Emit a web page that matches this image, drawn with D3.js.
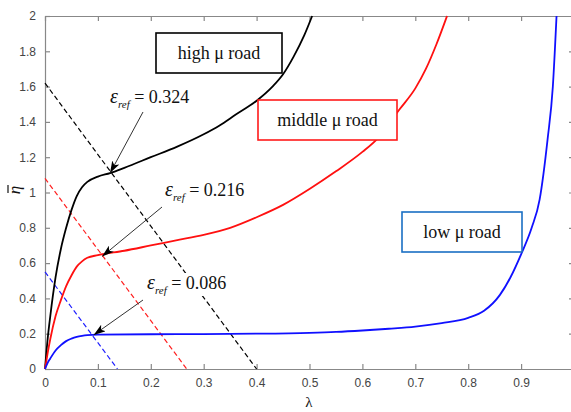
<!DOCTYPE html>
<html lang="en">
<head>
  <meta charset="utf-8">
  <title>eta vs lambda</title>
  <script src="https://cdn.jsdelivr.net/npm/d3@7"></script>
  <style>
    body { margin: 0; background: #fff; }
    .tick text { font-family: "Liberation Sans", Arial, sans-serif; font-size: 12px; fill: #444; }
    .ann { font-family: "Liberation Serif", "Times New Roman", serif; fill: #111; }
  </style>
</head>
<body>
  <div class="chart"></div>
  <script>
    var w = 571, h = 412;

    // curves: [lambda, eta]
    var highRoad = [[0,0],[0.005,0.17],[0.01,0.3],[0.02,0.52],[0.03,0.68],[0.04,0.8],[0.05,0.9],[0.06,0.98],[0.07,1.03],
      [0.08,1.06],[0.1,1.09],[0.123,1.11],[0.15,1.14],[0.2,1.2],[0.25,1.26],[0.3,1.33],[0.33,1.38],[0.36,1.44],
      [0.4,1.52],[0.43,1.6],[0.45,1.67],[0.47,1.77],[0.49,1.89],[0.505,2.0]];
    var middleRoad = [[0,0],[0.005,0.09],[0.01,0.17],[0.02,0.3],[0.03,0.39],[0.04,0.47],[0.05,0.53],[0.06,0.58],[0.07,0.61],
      [0.08,0.63],[0.1,0.645],[0.15,0.67],[0.2,0.7],[0.25,0.73],[0.3,0.76],[0.35,0.8],[0.4,0.86],[0.45,0.93],
      [0.5,1.02],[0.55,1.12],[0.6,1.23],[0.63,1.31],[0.67,1.47],[0.7,1.59],[0.72,1.7],[0.74,1.84],[0.76,2.0]];
    var lowRoad = [[0,0],[0.005,0.035],[0.01,0.06],[0.02,0.105],[0.03,0.135],[0.04,0.158],[0.05,0.172],[0.06,0.182],
      [0.07,0.188],[0.08,0.192],[0.1,0.195],[0.2,0.197],[0.3,0.198],[0.4,0.2],[0.5,0.205],[0.55,0.21],[0.6,0.218],
      [0.65,0.228],[0.7,0.24],[0.75,0.26],[0.8,0.29],[0.83,0.33],[0.86,0.42],[0.88,0.52],[0.9,0.65],[0.92,0.8],
      [0.935,0.96],[0.95,1.3],[0.96,1.6],[0.967,2.0]];

    // dashed reference lines
    var highRef = [[0,1.62],[0.4,0]];
    var middleRef = [[0,1.08],[0.268,0]];
    var lowRef = [[0,0.55],[0.137,0]];

    var xTicks = [0,0.1,0.2,0.3,0.4,0.5,0.6,0.7,0.8,0.9,1];
    var yTicks = [0,0.2,0.4,0.6,0.8,1,1.2,1.4,1.6,1.8,2];

    // annotations: label value, text position, arrow tip on the curve
    var epsLabels = ["0.324","0.216","0.086"];
    var epsText = [[110,103],[165,196],[147,289]];
    var epsArrow = [[[143,112],[0.123,1.11]],[[162,207],[0.108,0.638]],[[143,300],[0.092,0.193]]];

    var roadNames = ["high \u03bc road","middle \u03bc road","low \u03bc road"];
    var roadColors = ["#000","#ff1a1a","#1a6fc4"];
    var roadBoxes = [[156,33,126,40],[258,100,139,40],[402,212,120,40]];

    var x = d3.scaleLinear().domain([0,1]).range([45,574]);
    var y = d3.scaleLinear().domain([0,2]).range([369,16]);

    var svg = d3.select('.chart')
      .append('svg')
      .attr('width', w)
      .attr('height', h);

    svg.append('defs').append('marker')
      .attr('id','arrow')
      .attr('viewBox','0 0 12 8')
      .attr('refX',12).attr('refY',4)
      .attr('markerWidth',12).attr('markerHeight',8)
      .attr('markerUnits','userSpaceOnUse')
      .attr('orient','auto')
      .append('path')
      .attr('d','M0,0 L12,4 L0,8 L3,4 Z')
      .attr('fill','#000');

    // axes (box style, ticks inward)
    var axisG = svg.append('g');
    axisG.append('g').attr('transform','translate(0,369)')
      .call(d3.axisBottom(x).tickValues(xTicks.slice(0,10)).tickSizeInner(-5).tickSizeOuter(0).tickPadding(9)
        .tickFormat(function(d){ return d === 0 ? '0' : d3.format('.1f')(d); }));
    axisG.append('g').attr('transform','translate(0,16)')
      .call(d3.axisTop(x).tickValues(xTicks).tickSizeInner(-5).tickSizeOuter(0).tickFormat(''));
    axisG.append('g').attr('transform','translate(45,0)')
      .call(d3.axisLeft(y).tickValues(yTicks).tickSizeInner(-5).tickSizeOuter(0).tickPadding(9)
        .tickFormat(function(d){ return d === 0 || d === 1 || d === 2 ? d : d3.format('.1f')(d); }));
    axisG.append('g').attr('transform','translate(574,0)')
      .call(d3.axisRight(y).tickValues(yTicks).tickSizeInner(-5).tickSizeOuter(0).tickFormat(''));
    axisG.selectAll('.domain, .tick line').attr('stroke','#888').attr('stroke-width',1.2);

    var line = d3.line().x(function(d){ return x(d[0]); }).y(function(d){ return y(d[1]); });
    var curve = d3.line().curve(d3.curveMonotoneX)
      .x(function(d){ return x(d[0]); }).y(function(d){ return y(d[1]); });

    var plot = svg.append('g');
    [highRef, middleRef, lowRef].forEach(function(d, i) {
      plot.append('path').attr('d', line(d)).attr('fill','none')
        .attr('stroke', ['#000','#ff2020','#2020ff'][i]).attr('stroke-width',1.2)
        .attr('stroke-dasharray','5,3');
    });
    [highRoad, middleRoad, lowRoad].forEach(function(d, i) {
      plot.append('path').attr('d', curve(d)).attr('fill','none')
        .attr('stroke', ['#000','#ff1010','#1010ff'][i]).attr('stroke-width',1.8);
    });

    // arrows + epsilon labels (labels sit on a white patch)
    epsArrow.forEach(function(a) {
      svg.append('line')
        .attr('x1',a[0][0]).attr('y1',a[0][1])
        .attr('x2',x(a[1][0])).attr('y2',y(a[1][1]))
        .attr('stroke','#333').attr('stroke-width',1)
        .attr('marker-end','url(#arrow)');
    });
    epsLabels.forEach(function(v, i) {
      var g = svg.append('g');
      var bg = g.append('rect').attr('fill','#fff');
      var t = g.append('text').attr('class','ann')
        .attr('x', epsText[i][0]).attr('y', epsText[i][1]);
      t.append('tspan').attr('font-style','italic').attr('font-size',20).text('\u03b5');
      t.append('tspan').attr('font-style','italic').attr('font-size',11).attr('dy',5).text('ref');
      t.append('tspan').attr('font-size',18).attr('dy',-5).text(' = ' + v);
      var bb = t.node().getBBox();
      bg.attr('x', bb.x - 1).attr('y', bb.y + 2).attr('width', bb.width + 2).attr('height', bb.height - 2);
    });

    // road boxes
    roadNames.forEach(function(n, i) {
      var b = roadBoxes[i];
      svg.append('rect').attr('x',b[0]).attr('y',b[1]).attr('width',b[2]).attr('height',b[3])
        .attr('fill','#fff').attr('stroke',roadColors[i]).attr('stroke-width',1.6);
      svg.append('text').attr('class','ann')
        .attr('x', b[0] + b[2] / 2).attr('y', b[1] + b[3] / 2 + 6)
        .attr('text-anchor','middle').attr('font-size',18).text(n);
    });

    // axis labels
    svg.append('text').attr('class','ann')
      .attr('x',309).attr('y',407).attr('text-anchor','middle').attr('font-size',15).text('\u03bb');
    var yLab = svg.append('g').attr('transform','translate(20,190) rotate(-90)');
    yLab.append('text').attr('class','ann')
      .attr('text-anchor','middle').attr('font-size',17).attr('font-style','italic').text('\u03b7');
    yLab.append('line').attr('x1',-3).attr('x2',5).attr('y1',-12).attr('y2',-12)
      .attr('stroke','#111').attr('stroke-width',1.2);
  </script>
</body>
</html>
